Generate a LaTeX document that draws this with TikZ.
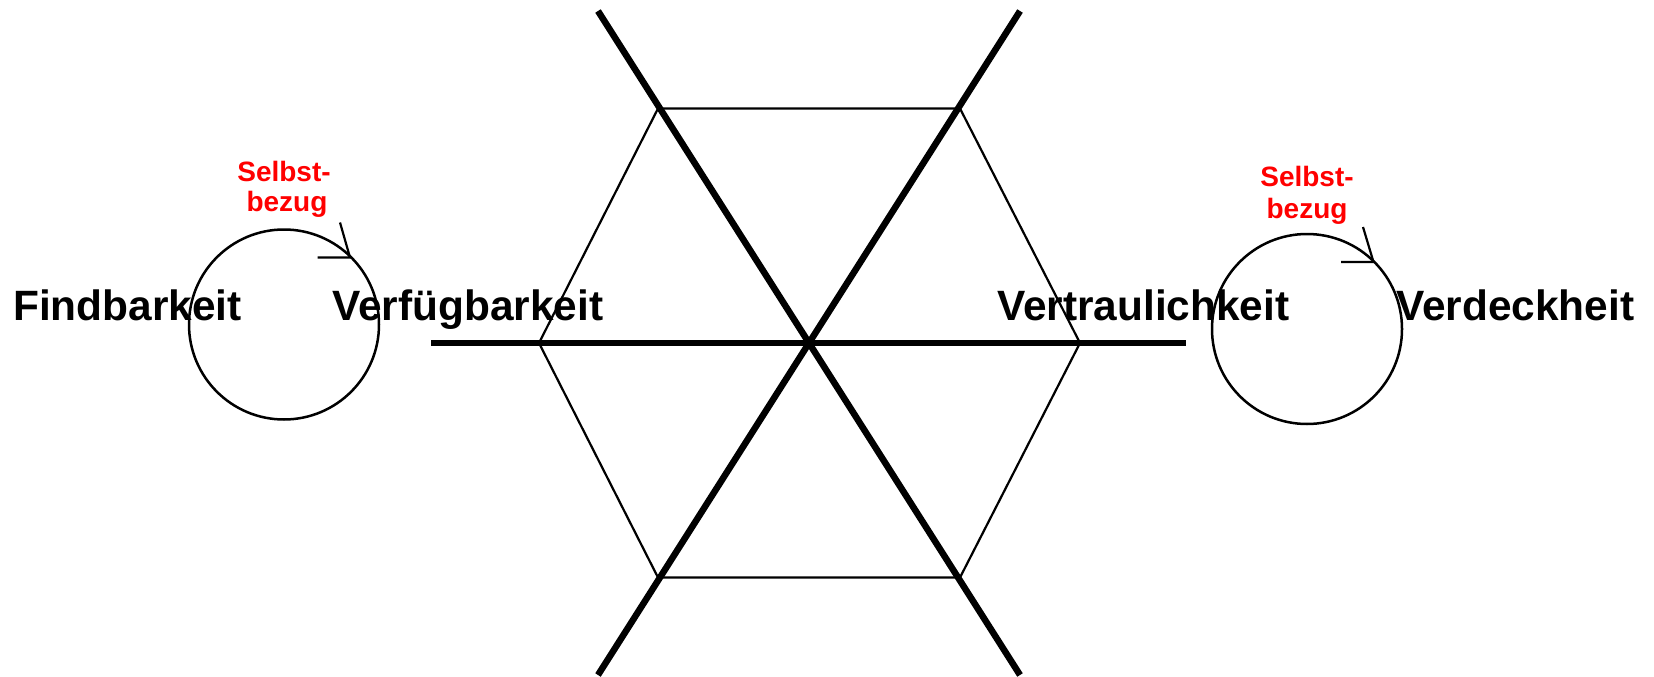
\documentclass[tikz,border=0pt]{standalone}
\usepackage{fontspec}
\setmainfont{Liberation Sans}
\begin{document}
\begin{tikzpicture}[x=1pt,y=-1pt,
  bigtext/.style={font=\fontsize{42.4}{48}\selectfont\bfseries, inner sep=0pt, anchor=base west},
  redtext/.style={font=\fontsize{28}{32}\selectfont\bfseries, text=red, inner sep=0pt, anchor=base},
  thickline/.style={line width=6.5pt, line cap=butt},
  thinline/.style={line width=2.2pt, line join=miter},
  loopcircle/.style={line width=2.5pt},
  tipline/.style={line width=2.2pt}]
\useasboundingbox (0,0) rectangle (1654,677);
% hexagon vertices
\coordinate (h1) at (658,108.5);
\coordinate (h2) at (960,108.5);
\coordinate (h3) at (1080,343);
\coordinate (h4) at (960,577.5);
\coordinate (h5) at (658,577.5);
\coordinate (h6) at (539,343);
\coordinate (c) at (809,343);
\draw[thinline] (h1) -- (h2) -- (h3) -- (h4) -- (h5) -- (h6) -- cycle;
% thick axes
\coordinate (tl) at (598,11);
\coordinate (br) at (1020,675);
\coordinate (tr) at (1020,11);
\coordinate (bl) at (598,675);
\coordinate (ml) at (431,343);
\coordinate (mr) at (1186,343);
\draw[thickline] (tl) -- (br);
\draw[thickline] (tr) -- (bl);
\draw[thickline] (ml) -- (mr);
% loops
\coordinate (lc) at (284,324.5);
\coordinate (rc) at (1307,329);
\draw[loopcircle] (lc) circle (95);
\draw[loopcircle] (rc) circle (95);
% arrow tips on loops
\coordinate (ltip) at (350,257.5);
\coordinate (la1) at (340,222.5);
\coordinate (la2) at (317.5,257.5);
\draw[tipline] (la1) -- (ltip) -- (la2);
\coordinate (rtip) at (1373.5,262);
\coordinate (ra1) at (1363,227);
\coordinate (ra2) at (1341,262);
\draw[tipline] (ra1) -- (rtip) -- (ra2);
% labels
\node[bigtext] (find) at (13,320) {Findbarkeit};
\node[bigtext] (verf) at (332,320) {Verfügbarkeit};
\node[bigtext] (vert) at (997,320) {Vertraulichkeit};
\node[bigtext] (verd) at (1396,320) {Verdeckheit};
\node[redtext] (selbstL) at (284,181.5) {Selbst-};
\node[redtext] (bezugL) at (287,211.5) {bezug};
\node[redtext] (selbstR) at (1307,186.5) {Selbst-};
\node[redtext] (bezugR) at (1307,218) {bezug};
\end{tikzpicture}
\end{document}
